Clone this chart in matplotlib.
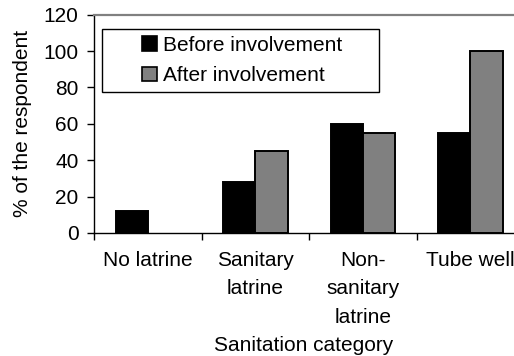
import matplotlib
matplotlib.use("Agg")
import matplotlib.pyplot as plt
from matplotlib.patches import Rectangle
from matplotlib.legend_handler import HandlerPatch
import numpy as np

categories = ["No latrine", "Sanitary\nlatrine", "Non-\nsanitary\nlatrine", "Tube well"]
before = [12, 28, 60, 55]
after = [0, 45, 55, 100]
series_names = ["Before involvement", "After involvement"]
series_colors = ["#000000", "#808080"]
y_ticks = [0, 20, 40, 60, 80, 100, 120]

plt.rcParams["font.family"] = ["Liberation Sans", "DejaVu Sans"]
FS = 15

fig = plt.figure(figsize=(5.14, 3.56), dpi=100)
W, H = 514, 356
ax = fig.add_axes([94 / W, (H - 233) / H, (W - 94) / W, (233 - 14.7) / H])

x = np.arange(len(categories)) + 0.5
bw = 0.3
for vals, offset, color in ((before, -bw / 2, series_colors[0]),
                            (after, bw / 2, series_colors[1])):
    # zero-height bars leave no outline on the axis
    lws = [0 if v == 0 else 1.4 for v in vals]
    ax.bar(x + offset, vals, bw, color=color, edgecolor="#000000",
           linewidth=lws, zorder=3)

ax.set_xlim(0, (W - 94) / 107.5)
ax.set_ylim(0, 120)
ax.set_yticks(y_ticks)
ax.set_yticklabels([str(v) for v in y_ticks], fontsize=FS)
ax.tick_params(axis="y", direction="out", length=5, width=1, pad=6, colors="#000000")

# category boundaries carry the tick marks, centres carry the labels
ax.set_xticks(np.arange(len(categories)))
ax.set_xticklabels([""] * len(categories))
ax.set_xticks(x, minor=True)
ax.set_xticklabels(categories, minor=True, fontsize=FS, linespacing=1.62)
ax.tick_params(axis="x", which="major", direction="out", length=5, width=1)
ax.tick_params(axis="x", which="minor", length=0, pad=13)

for side in ("left", "bottom"):
    ax.spines[side].set_color("#000000")
    ax.spines[side].set_linewidth(1.0)
ax.spines["top"].set_color("#808080")
ax.spines["top"].set_linewidth(1.6)
ax.spines["right"].set_visible(False)

ax.set_ylabel("% of the respondent", fontsize=FS)
ax.yaxis.set_label_coords((32 - 94) / 420, 0.5)
ax.set_xlabel("Sanitation category", fontsize=FS)
ax.xaxis.set_label_coords(0.5, (233 - 336) / 218.3)


class SquareHandler(HandlerPatch):
    def create_artists(self, legend, orig_handle, xdescent, ydescent,
                       width, height, fontsize, trans):
        s = 10.5
        p = Rectangle((-xdescent + width - s, -ydescent + (height - s) / 2), s, s,
                      facecolor=orig_handle.get_facecolor(),
                      edgecolor="#000000", linewidth=1.2, transform=trans)
        return [p]


handles = [Rectangle((0, 0), 1, 1, facecolor=c) for c in series_colors]
lx0 = (102 - 94) / 420
lx1 = (379 - 94) / 420
ly1 = (233 - 29) / 218.3
ly0 = (233 - 90) / 218.3
leg = ax.legend(handles, series_names, loc="upper left",
                bbox_to_anchor=(lx0, ly0, lx1 - lx0, ly1 - ly0),
                mode="expand", borderaxespad=0, fontsize=FS,
                frameon=True, fancybox=False, edgecolor="#000000",
                framealpha=1, borderpad=0.33, labelspacing=0.55,
                handlelength=2.3, handletextpad=0.32,
                handler_map={Rectangle: SquareHandler()})
leg.get_frame().set_linewidth(1.0)
leg.set_zorder(5)

fig.savefig("out.png", dpi=100)
